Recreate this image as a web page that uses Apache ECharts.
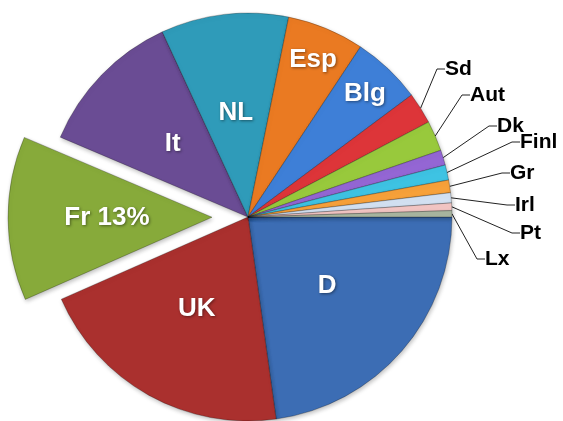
<!DOCTYPE html>
<html>
<head>
<meta charset="utf-8">
<script src="https://cdn.jsdelivr.net/npm/echarts@6/dist/echarts.min.js"></script>
<style>
html,body{margin:0;padding:0;background:#fff;}
#main{width:563px;height:421px;}
</style>
</head>
<body>
<div id="main"></div>
<script>
// Data (share in %), clockwise from 3 o'clock
const countries = ['D','UK','Fr','It','NL','Esp','Blg','Sd','Aut','Dk','Finl','Gr','Irl','Pt','Lx'];
const shares    = [22.8, 20.6, 13, 11.7, 10.1, 6.1, 5.5, 2.5, 2.4, 1.2, 1.2, 1.0, 0.8, 0.6, 0.5];
const sliceColors = ['#3C6DB4','#AA302E','#87AA3A','#6A4C94','#2F9BB9','#EA7A22','#3E7FD7',
                     '#DD3539','#98C93C','#9466D4','#3EC3E3','#F7A13A','#D3E1F2','#F3C6C4','#A9B6A0'];
const insideNames = ['D','UK','Fr','It','NL','Esp','Blg'];
const explodedName = 'Fr';

// ---- layout / styling (not data) ----
const CENTER = [248, 217];
const RADIUS = 204;
// radial push of some inside labels
const labelPush = {Esp: 1.62, Blg: 1.62};
// spots (left x, middle y) of the outside labels, as placed in the original
const outsideLabelSpots = {
  Sd: [445, 69], Aut: [470, 95], Dk: [497, 126], Finl: [520, 142],
  Gr: [510, 173], Irl: [515, 205], Pt: [520, 233], Lx: [485, 259]
};

const data = countries.map((name, i) => {
  const inside = insideNames.includes(name);
  const item = {
    name: name,
    value: shares[i],
    itemStyle: {color: sliceColors[i]},
    label: inside ? {
      position: 'inside',
      color: '#fff',
      fontSize: 26,
      fontWeight: 'bold',
      fontFamily: 'Liberation Sans',
      textShadowColor: 'rgba(0,0,0,0.45)',
      textShadowBlur: 3,
      textShadowOffsetX: 1,
      textShadowOffsetY: 1,
      formatter: name === explodedName ? '{b} {d}%' : '{b}'
    } : {
      position: 'outside'
    },
    labelLine: {show: !inside}
  };
  if (name === explodedName) item.selected = true;
  return item;
});

const chart = echarts.init(document.getElementById('main'), null, {renderer: 'canvas'});
chart.setOption({
  animation: false,
  backgroundColor: '#ffffff',
  series: [{
    type: 'pie',
    center: CENTER,
    radius: RADIUS,
    startAngle: 0,
    clockwise: true,
    selectedMode: 'single',
    selectedOffset: 36,
    percentPrecision: 0,
    avoidLabelOverlap: false,
    itemStyle: {
      borderColor: 'rgba(0,0,0,0.25)',
      borderWidth: 1,
      shadowColor: 'rgba(0,0,0,0.25)',
      shadowBlur: 4,
      shadowOffsetX: 1,
      shadowOffsetY: 2
    },
    label: {
      color: '#000',
      fontSize: 21,
      fontWeight: 'bold',
      fontFamily: 'Liberation Sans',
      formatter: '{b}'
    },
    labelLine: {
      length: 18,
      length2: 8,
      smooth: false,
      lineStyle: {color: '#222', width: 1}
    },
    emphasis: {disabled: true},
    labelLayout: function (p) {
      const name = countries[p.dataIndex];
      const spot = outsideLabelSpots[name];
      if (spot) {
        return {x: spot[0], y: spot[1], align: 'left', verticalAlign: 'middle'};
      }
      const f = labelPush[name];
      if (!f) return {};
      const r = p.labelRect;
      const vx = r.x + r.width / 2 - CENTER[0];
      const vy = r.y + r.height / 2 - CENTER[1];
      return {dx: vx * (f - 1), dy: vy * (f - 1)};
    },
    data: data
  }]
});
</script>
</body>
</html>
